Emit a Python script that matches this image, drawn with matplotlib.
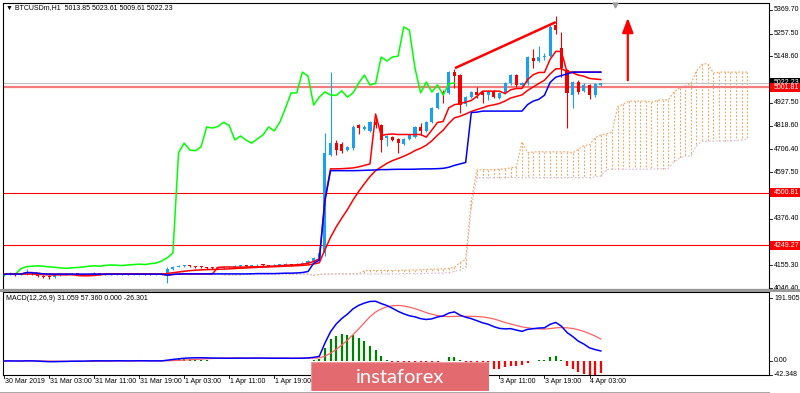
import numpy as np
import pandas as pd
import matplotlib
matplotlib.use('Agg')
import matplotlib.pyplot as plt
import matplotlib.transforms as mtransforms
from matplotlib.collections import LineCollection
from matplotlib.patches import Rectangle
from matplotlib import font_manager as fm

# ---------------- data (hourly BTCUSD bars, 30 Mar 19:00 .. 4 Apr 05:00) ----------------
opens = [4110, 4112, 4116, 4109, 4111, 4118, 4113, 4104, 4100, 4098,
         4107, 4112, 4110, 4115, 4112, 4110, 4114, 4118, 4112, 4110,
         4113, 4115, 4112, 4110, 4114, 4116, 4112, 4110, 4113, 4110,
         4138, 4148, 4150, 4152, 4150, 4147, 4145, 4142, 4140, 4142,
         4144, 4146, 4150, 4152, 4150, 4154, 4156, 4155, 4153, 4156,
         4158, 4160, 4158, 4162, 4165, 4175, 4190,
         4213, 4680, 4736, 4730, 4703, 4713, 4820, 4805, 4795, 4835,
         4822, 4760, 4765, 4756, 4732, 4756, 4765, 4813, 4794, 4836,
         4903, 4980, 4975, 5074, 5060, 4922, 4955, 4980, 4978, 4965,
         4985, 4950, 4975, 5020, 5060, 5013, 5020, 5141, 5127, 5146,
         5150, 5298, 5189, 5084, 4965, 5027, 4985, 5013, 4965, 5013.85]
highs = [4118, 4121, 4120, 4115, 4135, 4122, 4116, 4108, 4104, 4112,
         4116, 4116, 4119, 4118, 4115, 4118, 4122, 4120, 4115, 4117,
         4119, 4118, 4115, 4118, 4120, 4119, 4115, 4117, 4118, 4145,
         4152, 4155, 4157, 4155, 4153, 4150, 4148, 4145, 4146, 4148,
         4150, 4154, 4156, 4155, 4158, 4160, 4160, 4158, 4160, 4162,
         4164, 4163, 4166, 4170, 4180, 4196, 4222,
         4785, 5074, 4751, 4740, 4722, 4820, 4825, 4822, 4840, 4865,
         4828, 4775, 4770, 4760, 4760, 4780, 4818, 4830, 4840, 4908,
         4980, 4989, 5080, 5088, 5065, 4960, 4985, 5003, 4982, 4990,
         4990, 4980, 5027, 5065, 5065, 5025, 5150, 5183, 5200, 5165,
         5300, 5340, 5265, 5090, 5032, 5037, 5020, 5018, 5022, 5023.61]
lows = [4105, 4108, 4104, 4106, 4108, 4108, 4098, 4092, 4090, 4096,
        4104, 4106, 4107, 4108, 4106, 4107, 4110, 4108, 4106, 4108,
        4110, 4108, 4106, 4107, 4110, 4108, 4106, 4107, 4108, 4070,
        4132, 4144, 4146, 4145, 4143, 4140, 4138, 4136, 4137, 4139,
        4141, 4143, 4146, 4146, 4148, 4150, 4150, 4149, 4150, 4152,
        4154, 4153, 4155, 4158, 4162, 4172, 4186,
        4200, 4675, 4679, 4690, 4698, 4705, 4780, 4798, 4790, 4810,
        4694, 4722, 4745, 4689, 4728, 4750, 4760, 4775, 4790, 4830,
        4898, 4927, 4970, 4999, 4879, 4915, 4950, 4950, 4927, 4940,
        4950, 4945, 4970, 5015, 5005, 5008, 5015, 5093, 5120, 5130,
        5145, 5255, 5050, 4808, 4903, 4970, 4980, 4946, 4955, 5009.61]
closes = [4112, 4116, 4109, 4111, 4118, 4113, 4104, 4100, 4098, 4107,
          4112, 4110, 4115, 4112, 4110, 4114, 4118, 4112, 4110, 4113,
          4115, 4112, 4110, 4114, 4116, 4112, 4110, 4113, 4112, 4138,
          4148, 4150, 4152, 4150, 4147, 4145, 4142, 4140, 4142, 4144,
          4146, 4150, 4152, 4150, 4154, 4156, 4155, 4153, 4156, 4158,
          4160, 4158, 4162, 4165, 4175, 4190, 4213,
          4690, 4736, 4703, 4700, 4718, 4813, 4808, 4815, 4835, 4820,
          4751, 4770, 4750, 4736, 4756, 4775, 4813, 4794, 4836, 4903,
          4975, 4975, 5074, 5055, 4917, 4955, 4980, 4965, 4963, 4985,
          4955, 4975, 5022, 5060, 5013, 5020, 5146, 5127, 5146, 5150,
          5289, 5274, 5093, 4975, 5027, 4979, 5013, 4965, 5018, 5022.23]

price_ticks = [5369.70, 5257.50, 5148.60, 5036.70, 4927.50, 4818.60, 4706.40,
               4597.50, 4485.60, 4376.40, 4264.30, 4155.30, 4046.40]
hidden_price_ticks = [5036.70, 4485.60, 4264.30]   # covered by the level boxes
macd_ticks = [191.905, 0.00, -42.348]
hlines_red = [4500.81, 4249.27]
hline_thick = 5001.81
bid_price = 5022.23
time_ticks = [0, 8, 16, 24, 32, 40, 48, 56, 64, 72, 80, 88, 96, 104]
time_labels = ["30 Mar 2019", "31 Mar 03:00", "31 Mar 11:00", "31 Mar 19:00",
               "1 Apr 03:00", "1 Apr 11:00", "1 Apr 19:00", "2 Apr 03:00",
               "2 Apr 11:00", "2 Apr 19:00", "3 Apr 03:00", "3 Apr 11:00",
               "3 Apr 19:00", "4 Apr 03:00"]
hidden_time_ticks = [56, 64, 72, 80]                # covered by the watermark
trend_x = [80.1, 98.0]
trend_y = [5093, 5312]
arrow_x = 110.8
arrow_y = [5022, 5346]
title_text = "\u25bc BTCUSDm,H1  5013.85 5023.61 5009.61 5022.23"
macd_text = "MACD(12,26,9) 31.059 57.360 0.000 -26.301"

# ---------------- indicators ----------------
o = np.array(opens, float); h = np.array(highs, float)
l = np.array(lows, float); c = np.array(closes, float)
n = len(c)
idx = np.arange(n)
H = pd.Series(h); L = pd.Series(l); C = pd.Series(c)
tenkan = (H.rolling(9, min_periods=1).max() + L.rolling(9, min_periods=1).min()) / 2
kijun = (H.rolling(26, min_periods=1).max() + L.rolling(26, min_periods=1).min()) / 2
spanA = (tenkan + kijun) / 2
spanB = (H.rolling(52, min_periods=1).max() + L.rolling(52, min_periods=1).min()) / 2
ema_line = C.ewm(span=16, adjust=False).mean()
macd = C.ewm(span=12, adjust=False).mean() - C.ewm(span=26, adjust=False).mean()
signal = macd.rolling(9, min_periods=1).mean()
hist = macd - signal

# ---------------- fonts ----------------
avail = {f.name for f in fm.fontManager.ttflist}
if 'Liberation Sans Narrow' in avail:
    FONT = ['Liberation Sans Narrow', 'DejaVu Sans']; FS = 6.0
else:
    FONT = ['Liberation Sans', 'DejaVu Sans']; FS = 5.0

# ---------------- figure ----------------
W, Hh = 800, 393
fig = plt.figure(figsize=(8, 3.93), dpi=100)
fig.patch.set_facecolor('white')

def fx(px): return px / W
def fy(py): return 1 - py / Hh

ax = fig.add_axes([fx(3), fy(289), fx(769) - fx(3), fy(3) - fy(289)])
axm = fig.add_axes([fx(3), fy(375), fx(769) - fx(3), fy(292) - fy(375)])

XMIN, XMAX = -0.18, 135.88
ppx = (5369.70 - 4046.40) / 278.0
ax.set_xlim(XMIN, XMAX)
ax.set_ylim(4046.40 - 1 * ppx, 5369.70 + 7 * ppx)
mpx = 191.905 / 63.0
axm.set_xlim(XMIN, XMAX)
axm.set_ylim(-14 * mpx, 191.905 + 6 * mpx)

for a in (ax, axm):
    a.set_xticks([]); a.set_yticks([])
    for s in a.spines.values():
        s.set_color('black'); s.set_linewidth(0.8)

# cloud
xs = idx + 26
segs = [[(x, a_), (x, b_)] for x, a_, b_ in zip(xs, spanA, spanB)]
cols = ['#F4A460' if a_ >= b_ else '#D8BFD8' for a_, b_ in zip(spanA, spanB)]
lc = LineCollection(segs, colors=cols, linewidths=0.8, linestyles=(0, (1.6, 1.6)), zorder=1)
ax.add_collection(lc)
ax.plot(xs, spanA, color='#F4A460', lw=0.8, ls=(0, (1.6, 1.6)), zorder=1)
ax.plot(xs, spanB, color='#D8BFD8', lw=0.8, ls=(0, (1.6, 1.6)), zorder=1)

# horizontal levels
ax.axhline(bid_price, color='#C0C0C0', lw=0.8, zorder=1.2)
ax.axhline(hline_thick, color='#F47C7C', lw=1.6, zorder=1.3)
for y in hlines_red:
    ax.axhline(y, color='red', lw=0.8, zorder=1.3)

# candles
BLUE = '#1AA0F2'; RED = '#F00000'
ccol = [BLUE if cc >= oo else RED for oo, cc in zip(o, c)]
ax.vlines(idx, l, h, colors=ccol, lw=0.8, zorder=2)
body_b = np.minimum(o, c)
body_h = np.maximum(np.abs(c - o), 4.0)
ax.bar(idx, body_h, bottom=body_b, width=0.55, color=ccol, linewidth=0, zorder=2.1)

# indicator lines (kijun drawn above tenkan, as in the terminal)
ax.plot(idx - 26, c, color='#00FF00', lw=1.1, zorder=3)
ax.plot(idx, ema_line, color='red', lw=1.1, zorder=3)
ax.plot(idx, tenkan, color='red', lw=1.1, zorder=3.1)
ax.plot(idx, kijun, color='#0000FF', lw=1.1, zorder=3.2)

# drawn objects
ax.plot(trend_x, trend_y, color='red', lw=1.8, zorder=4, solid_capstyle='butt')
ax.annotate('', xy=(arrow_x, arrow_y[1]), xytext=(arrow_x, arrow_y[0]),
            arrowprops=dict(arrowstyle='-|>,head_length=0.8,head_width=0.3',
                            color='red', lw=1.6, mutation_scale=11), zorder=4)
ax.plot([108.5], [5369.70 + 5.5 * ppx], marker='v', ms=3.5, color='#A0A0A0',
        clip_on=False, zorder=5)

# right price scale
tr = mtransforms.blended_transform_factory(ax.transAxes, ax.transData)
for t in price_ticks:
    ax.plot([1, 1 + 3 / 766], [t, t], color='black', lw=0.6, transform=tr, clip_on=False)
    if t in hidden_price_ticks:
        continue
    ax.text(1 + 5 / 766, t, f"{t:.2f}", transform=tr, ha='left', va='center',
            fontsize=FS, family=FONT, clip_on=False)

def price_box(axis, trans, y, txt, fc, half):
    axis.add_patch(Rectangle((1 + 1 / 766, y - half), 31 / 766, 2 * half, transform=trans,
                             facecolor=fc, edgecolor='none', clip_on=False, zorder=6))
    axis.text(1 + 5 / 766, y, txt, transform=trans, ha='left', va='center',
              fontsize=FS, family=FONT, color='white', clip_on=False, zorder=7)

price_box(ax, tr, bid_price, f"{bid_price:.2f}", 'black', 4.5 * ppx)
price_box(ax, tr, hline_thick, f"{hline_thick:.2f}", '#FF0000', 4.5 * ppx)
for y in hlines_red:
    price_box(ax, tr, y, f"{y:.2f}", '#FF0000', 4.5 * ppx)

# MACD panel
hcol = ['#008000' if v >= 0 else '#FF0000' for v in hist]
axm.vlines(idx, 0, hist, colors=hcol, lw=1.6, zorder=2)
axm.plot(idx, signal, color='#FF6060', lw=0.9, zorder=3)
axm.plot(idx, macd, color='#0000FF', lw=1.1, zorder=3)
trm = mtransforms.blended_transform_factory(axm.transAxes, axm.transData)
for t in macd_ticks:
    axm.plot([1, 1 + 3 / 766], [t, t], color='black', lw=0.6, transform=trm, clip_on=False)
    lab = f"{t:.3f}" if t != 0 else "0.00"
    axm.text(1 + 5 / 766, t, lab, transform=trm, ha='left', va='center',
             fontsize=FS, family=FONT, clip_on=False)

# time axis
trx = mtransforms.blended_transform_factory(axm.transData, axm.transAxes)
for b, s in zip(time_ticks, time_labels):
    axm.plot([b, b], [0, -3 / 83], color='black', lw=0.6, transform=trx, clip_on=False)
    if b in hidden_time_ticks:
        continue
    axm.text(b + 0.15, -6.5 / 83, s, transform=trx, ha='left', va='center',
             fontsize=FS, family=FONT, clip_on=False)

# separators and captions
fig.add_artist(Rectangle((fx(0), fy(291.5)), 1, 3 / Hh, transform=fig.transFigure,
                         facecolor='#9A9A9A', edgecolor='none'))
fig.add_artist(Rectangle((0, 0), fx(770), 1.5 / Hh, transform=fig.transFigure,
                         facecolor='#A8A8A8', edgecolor='none'))
fig.text(fx(6), fy(8), title_text, ha='left', va='center', fontsize=FS, family=FONT)
fig.text(fx(6), fy(299), macd_text, ha='left', va='center', fontsize=FS, family=FONT)

# watermark logo
axl = fig.add_axes([fx(311), fy(391), fx(489) - fx(311), fy(362) - fy(391)])
axl.set_xlim(0, 1); axl.set_ylim(0, 1)
axl.axis('off')
axl.add_patch(Rectangle((0, 0), 1, 1, facecolor='#E36B70', edgecolor='#EC9A9D', lw=0.8))
axl.text(0.5, 0.47, 'instaforex', ha='center', va='center', color='white',
         fontsize=14.5, family=['Lato', 'Open Sans', 'DejaVu Sans'])

fig.savefig('out.png', dpi=100, facecolor='white')
